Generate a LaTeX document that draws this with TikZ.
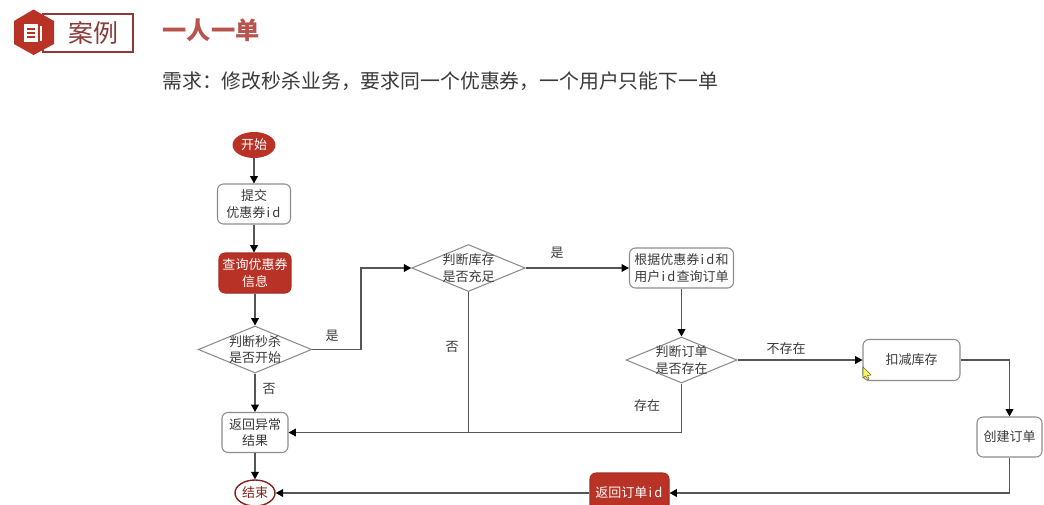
\documentclass[tikz,border=0pt]{standalone}
\usepackage{xcolor}
\usepackage{fontspec}
\setmainfont{Noto Sans CJK SC}
\usetikzlibrary{arrows.meta,shapes.geometric}
\definecolor{brick}{HTML}{B93226}
\definecolor{title}{HTML}{B8544F}
\definecolor{banner}{HTML}{8A3A38}
\definecolor{ink}{HTML}{3A3A3A}
\definecolor{edge}{HTML}{8C8C8C}
\definecolor{wire}{HTML}{555555}
\newcommand\idtag{\kern0.7pt i\kern1.2pt d\kern0.7pt}
\tikzset{
  txt/.style={font=\fontsize{7.4}{9.4}\selectfont,text=ink,align=center,inner sep=0pt},
  procbox/.style={txt,draw=edge,fill=white,rounded corners=3.4pt,line width=0.6pt,minimum height=0.8cm},
  redbox/.style={procbox,draw=brick!90!black,fill=brick,text=white},
  decide/.style={txt,diamond,draw=edge,fill=white,line width=0.6pt,aspect=2.4,inner sep=-3pt,minimum width=2.27cm,minimum height=0.94cm},
  wiring/.style={->,wire,line width=0.7pt}
}
\begin{document}
\begin{tikzpicture}[x=0.02cm,y=-0.02cm,>={Triangle[length=4.2pt,width=4.4pt,color=black]}]
\useasboundingbox (0,0) rectangle (1044,504);
\fill[white] (0,0) rectangle (1044,504);
% header
\draw[banner,line width=0.9pt] (43,14) rectangle (133,52);
\fill[brick] (33.5,9.5)--(54,21)--(54,44)--(33.5,55)--(14,44)--(14,21)--cycle;
\fill[white] (24,24) rectangle (38,42);
\fill[white] (39.5,26) rectangle (42,41);
\foreach \y in {29,33,37} \draw[brick,line width=0.7pt] (27,\y)--(35,\y);
\node[inner sep=0pt,text=banner,font=\fontsize{14.2}{16}\selectfont] (casetag) at (93,33) {案例};
\node[inner sep=0pt,text=title,font=\fontsize{13.8}{16}\selectfont\bfseries] (headline) at (211,30) {一人一单};
\node[inner sep=0pt,text=ink,anchor=west,font=\fontsize{11.3}{14}\selectfont] (require) at (162,81) {需求：修改秒杀业务，要求同一个优惠券，一个用户只能下一单};
% left column
\node[txt,ellipse,fill=brick,text=white,minimum width=0.86cm,minimum height=0.52cm] (start) at (254,145) {开始};
\node[procbox,minimum width=1.46cm] (submit) at (254,204) {提交\\优惠券\idtag};
\node[redbox,minimum width=1.44cm] (query) at (255,273) {查询优惠券\\信息};
\node[decide] (opened) at (255,349.5) {判断秒杀\\是否开始};
\node[procbox,minimum width=1.32cm] (fail) at (255,432.5) {返回异常\\结果};
\node[txt,ellipse,draw=brick!70!black,fill=white,text=brick!70!black,line width=0.8pt,minimum width=0.8cm,minimum height=0.52cm] (finish) at (255,493) {结束};
% middle and right
\node[decide] (stock) at (468.5,268) {判断库存\\是否充足};
\node[procbox,minimum width=2.08cm] (lookup) at (681.5,268) {根据优惠券\idtag 和\\用户\idtag 查询订单};
\node[decide,minimum width=2.22cm,minimum height=0.92cm] (exists) at (681.5,360) {判断订单\\是否存在};
\node[procbox,minimum width=1.94cm,minimum height=0.82cm] (deduct) at (911.5,360) {扣减库存};
\node[procbox,minimum width=1.3cm] (create) at (1009.5,437) {创建订单};
\node[redbox,minimum width=1.58cm] (back) at (629.5,493) {返回订单\idtag};
\coordinate (bend) at (361,300);
% connectors
\draw[wiring] (start)--(start|-submit.north);
\draw[wiring] (submit)--(submit|-query.north);
\draw[wiring] (query)--(opened);
\draw[wiring] (opened)--(fail);
\draw[wiring] (fail)--(finish);
\draw[wiring] (opened.east)-|(bend)|-(stock.west);
\draw[wiring] (stock.east)--(lookup.west);
\draw[wiring] (lookup.south)--(exists.north);
\draw[wiring] (exists.east)--(deduct.west);
\draw[wiring] (deduct.east)-|(create.north);
\draw[wiring] (create.south)|-(back.east);
\draw[wiring] (back.west)--(finish.east);
\draw[wiring] (exists.south)|-(fail.east);
\draw[wire,line width=0.7pt] (stock.south)--(stock.south|-fail.east);
% labels
\node[txt] (yesa) at (332,336) {是};
\node[txt] (noa) at (269,389) {否};
\node[txt] (nob) at (452,347) {否};
\node[txt] (yesb) at (557,253) {是};
\node[txt] (absent) at (786,349) {不存在};
\node[txt] (present) at (647,406) {存在};
% mouse pointer
\draw[olive!70!black,fill=yellow!60,line width=0.3pt] (863,367)--(863,378)--(865.5,376)--(868,380)--(869,379)--(867.5,375.5)--(871,375)--cycle;
\end{tikzpicture}
\end{document}
